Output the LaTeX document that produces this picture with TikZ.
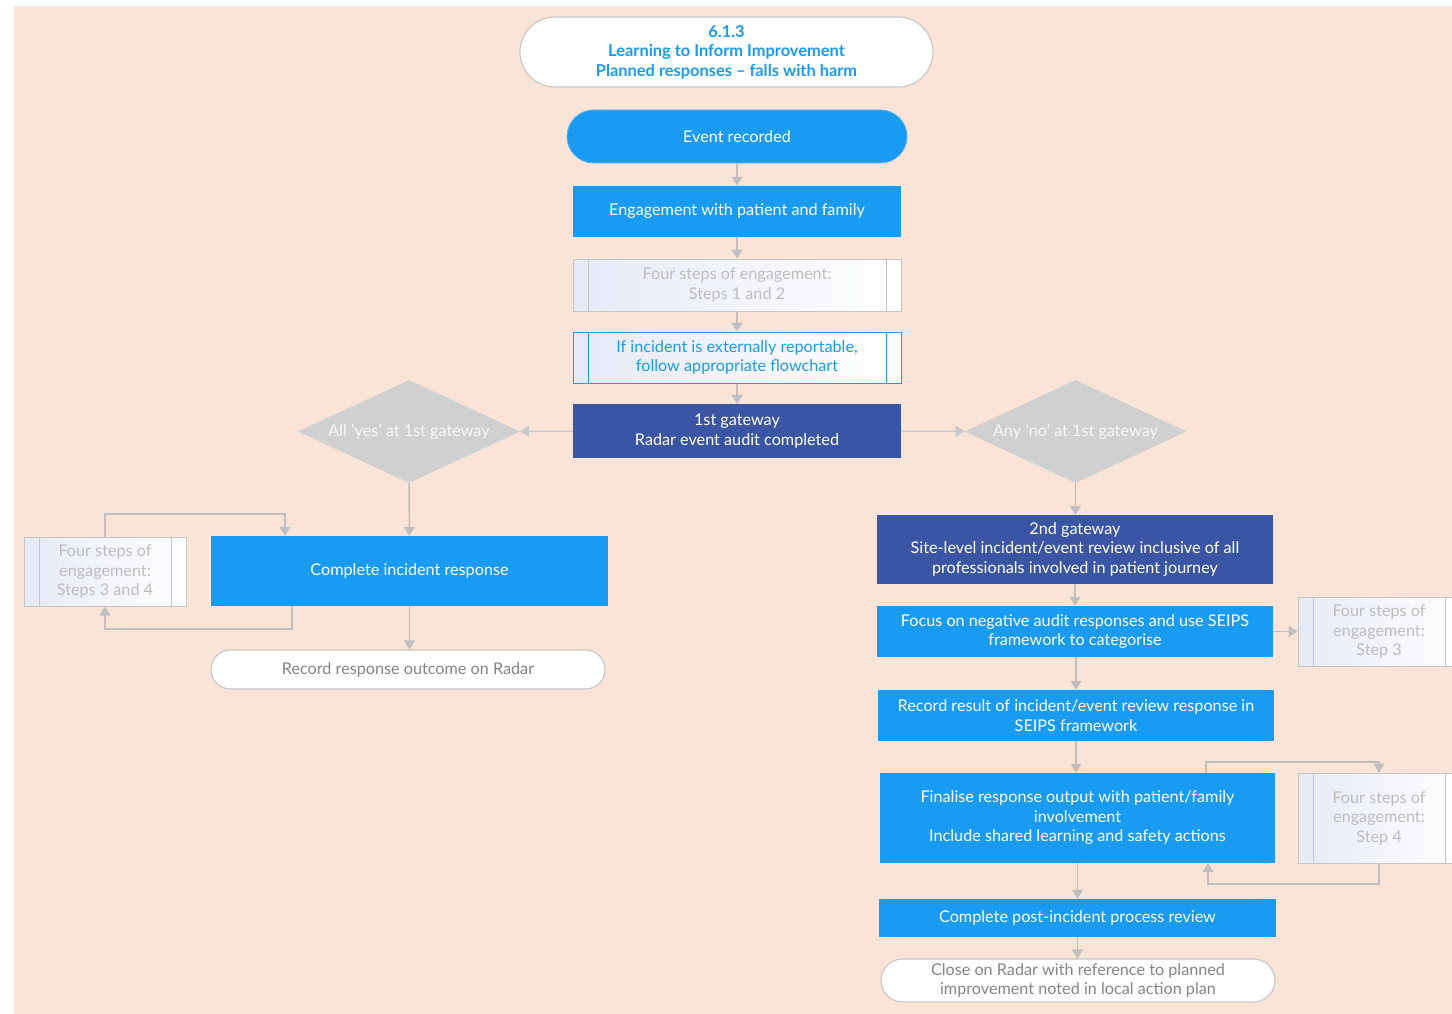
\documentclass[tikz,border=0pt]{standalone}
\usepackage{fontspec}
\setmainfont{Lato}
\usetikzlibrary{shapes.geometric,arrows.meta,calc}
\definecolor{peach}{HTML}{FAE4D7}
\definecolor{lblue}{HTML}{1A9BF2}
\definecolor{dblue}{HTML}{3A55A4}
\definecolor{arrgray}{HTML}{BFBFBF}
\definecolor{ltext}{HTML}{BDBDBD}
\definecolor{dtext}{HTML}{858585}
\definecolor{dia}{HTML}{D0D0D0}
\definecolor{bordergray}{HTML}{C6C6C6}
\definecolor{lav}{HTML}{E6EAF7}
\tikzset{
  txt/.style={font=\fontsize{16.2}{19.5}\selectfont, align=center, inner sep=0pt},
  bluebox/.style={txt, fill=lblue, text=white},
  darkbox/.style={txt, fill=dblue, text=white},
  stadium/.style={txt, draw=bordergray, line width=1.1pt, fill=white, text=dtext},
  proc/.style={txt, draw=#1, line width=1pt, left color=lav, middle color=white, right color=white,
    path picture={\draw[#1, line width=1pt]
      ([xshift=15pt]path picture bounding box.north west) -- ([xshift=15pt]path picture bounding box.south west)
      ([xshift=-15pt]path picture bounding box.north east) -- ([xshift=-15pt]path picture bounding box.south east);}},
  decision/.style={txt, shape=diamond, aspect=2.15, fill=dia, text=white!95!gray, minimum width=222pt, minimum height=103pt},
  arr/.style={draw=arrgray, line width=1.6pt, -{Triangle[width=11pt,length=9pt]}},
  thinarr/.style={draw=arrgray!85!white, line width=1.2pt, -{Triangle[width=11pt,length=9pt]}},
}
\begin{document}
\begin{tikzpicture}[x=1pt,y=-1pt]
\useasboundingbox (0,0) rectangle (1452,1014);
\clip (0,0) rectangle (1452,1014);
\fill[white] (0,0) rectangle (1452,1014);
\fill[peach] (14,7) rectangle (1452,1014);
\draw[gray!20, line width=1pt] (14,6.5) -- (1452,6.5);

% centre column
\node[stadium, text=lblue, font=\fontsize{16.4}{19.5}\selectfont\bfseries, rounded corners=35pt, minimum width=413pt, minimum height=70pt] (title) at (726.5,52) {6.1.3\\Learning to Inform Improvement\\Planned responses – falls with harm};
\node[bluebox, draw=lblue!75!white, line width=0.8pt, rounded corners=26.5pt, minimum width=340pt, minimum height=53pt] (ev) at (737,136.5) {Event recorded};
\node[bluebox, minimum width=328pt, minimum height=51pt] (eng) at (737,211.5) {Engagement with patient and family};
\node[proc=bordergray, text=ltext, minimum width=328pt, minimum height=52pt] (fs12) at (737,285) {Four steps of engagement:\\Steps 1 and 2};
\node[proc=lblue, text=lblue, minimum width=328pt, minimum height=51pt] (inc) at (737,357.5) {If incident is externally reportable,\\follow appropriate flowchart};
\node[darkbox, minimum width=328pt, minimum height=54pt] (gw1) at (737,431) {1st gateway\\Radar event audit completed};

% decisions
\node[decision] (dL) at (409,431.5) {All 'yes' at 1st gateway};
\node[decision] (dR) at (1075.5,431.5) {Any 'no' at 1st gateway};

% left branch
\node[bluebox, minimum width=397pt, minimum height=70pt] (cir) at (409.5,571) {Complete incident response};
\node[proc=bordergray, text=ltext, minimum width=162pt, minimum height=69pt] (fsL) at (105,571.5) {Four steps of\\engagement:\\Steps 3 and 4};
\node[stadium, rounded corners=19.5pt, minimum width=394pt, minimum height=39pt] (rec) at (408,669.5) {Record response outcome on Radar};

% right branch
\node[darkbox, minimum width=396pt, minimum height=69pt] (gw2) at (1075,549.5) {2nd gateway\\Site-level incident/event review inclusive of all\\professionals involved in patient journey};
\node[bluebox, minimum width=396pt, minimum height=51pt] (foc) at (1075,631.5) {Focus on negative audit responses and use SEIPS\\framework to categorise};
\node[proc=bordergray, text=ltext, minimum width=162pt, minimum height=69pt] (fs3) at (1379,631.5) {Four steps of\\engagement:\\Step 3};
\node[bluebox, minimum width=396pt, minimum height=51pt] (rr) at (1076,715.5) {Record result of incident/event review response in\\SEIPS framework};
\node[bluebox, minimum width=395pt, minimum height=90pt] (fin) at (1077.5,818) {Finalise response output with patient/family\\involvement\\Include shared learning and safety actions};
\node[proc=bordergray, text=ltext, minimum width=162pt, minimum height=90pt] (fs4) at (1379,818) {Four steps of\\engagement:\\Step 4};
\node[bluebox, minimum width=397pt, minimum height=38pt] (cpr) at (1077.5,918) {Complete post-incident process review};
\node[stadium, rounded corners=21.5pt, minimum width=394pt, minimum height=43pt] (close) at (1078,980.5) {Close on Radar with reference to planned\\improvement noted in local action plan};

% connectors centre
\draw[arr] (ev) -- (eng);
\draw[arr] (eng) -- (fs12);
\draw[arr] (fs12) -- (inc);
\draw[arr] (inc) -- (gw1);
\draw[thinarr] (gw1) -- (dL);
\draw[thinarr] (gw1) -- (dR);

% left connectors
\draw[arr] (dL) -- (cir);
\draw[arr] (cir.south) -- (cir.south |- rec.north);
\coordinate (lA) at (285,514);
\coordinate (lB) at (292,629);
\draw[arr] (fsL.north) |- (lA) -- (lA |- cir.north);
\draw[arr] (lB |- cir.south) -- (lB) -| (fsL.south);

% right connectors
\draw[arr] (dR.south) -- (dR.south |- gw2.north);
\draw[arr] (gw2.south) -- (gw2.south |- foc.north);
\draw[arr] (foc) -- (fs3);
\draw[arr] (rr.north |- foc.south) -- (rr.north);
\draw[arr] (rr.south) -- (rr.south |- fin.north);
\draw[arr] (fin.south) -- (fin.south |- cpr.north);
\draw[arr] (cpr.south) -- (cpr.south |- close.north);
\coordinate (rA) at (1206,762);
\coordinate (rB) at (1208,884);
\draw[arr] (rA |- fin.north) -- (rA) -| (fs4.north);
\draw[arr] (fs4.south) |- (rB) -- (rB |- fin.south);
\end{tikzpicture}
\end{document}
